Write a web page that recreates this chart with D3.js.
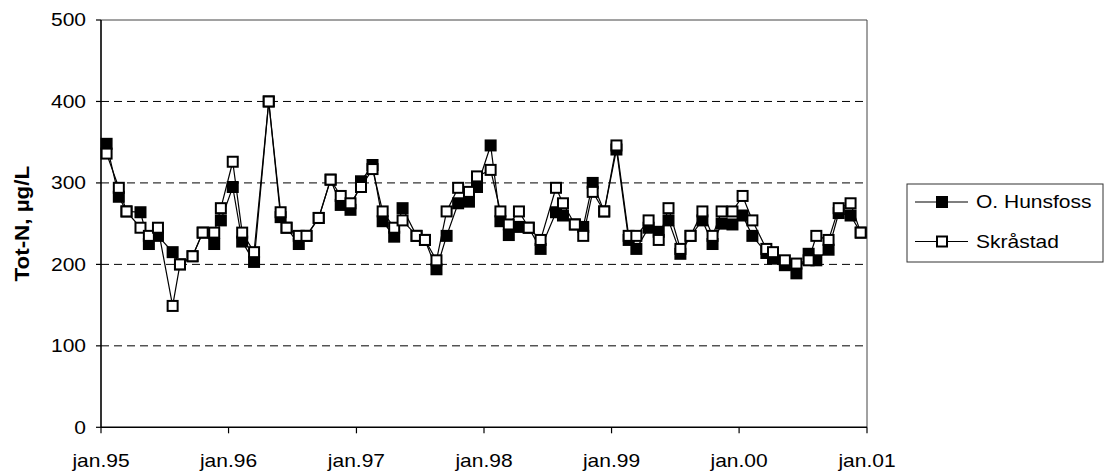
<!DOCTYPE html>
<html>
<head>
<meta charset="utf-8">
<script src="https://cdn.jsdelivr.net/npm/d3@7/dist/d3.min.js"></script>
<style>
  body { margin: 0; background: #fff; }
  text { font-family: "Liberation Sans", Arial, sans-serif; fill: #000; }
</style>
</head>
<body>
<svg id="chart"></svg>
<script>
const width = 1104;
const height = 472;

// sampling dates (approx. monthly)
const dates = [
  "1995-01-17","1995-02-21","1995-03-15","1995-04-24","1995-05-18","1995-06-13",
  "1995-07-25","1995-08-15","1995-09-20","1995-10-19","1995-11-21","1995-12-10",
  "1996-01-13","1996-02-09","1996-03-14","1996-04-25","1996-05-29","1996-06-15",
  "1996-07-20","1996-08-11","1996-09-15","1996-10-19","1996-11-17","1996-12-15",
  "1997-01-14","1997-02-16","1997-03-17","1997-04-19","1997-05-13","1997-06-22",
  "1997-07-16","1997-08-18","1997-09-16","1997-10-19","1997-11-19","1997-12-12",
  "1998-01-20","1998-02-17","1998-03-13","1998-04-11","1998-05-09","1998-06-12",
  "1998-07-26","1998-08-15","1998-09-18","1998-10-12","1998-11-08","1998-12-11",
  "1999-01-15","1999-02-19","1999-03-13","1999-04-17","1999-05-16","1999-06-13",
  "1999-07-17","1999-08-15","1999-09-18","1999-10-17","1999-11-12","1999-12-13",
  "2000-01-11","2000-02-08","2000-03-19","2000-04-07","2000-05-11","2000-06-13",
  "2000-07-18","2000-08-09","2000-09-13","2000-10-12","2000-11-15","2000-12-14"
];

const hunsfoss = [
  348, 283, 265, 264, 225, 235, 215, 200, 210, 239, 225, 254,
  295, 228, 203, 400, 258, 245, 225, 235, 257, 304, 273, 267,
  302, 322, 253, 234, 269, 235, 230, 194, 235, 275, 277, 295,
  346, 253, 236, 246, 245, 219, 264, 260, 249, 246, 300, 265,
  341, 230, 219, 245, 240, 254, 213, 235, 254, 225, 250, 249,
  260, 235, 214, 207, 199, 189, 213, 205, 218, 263, 260, 239
];

const skrastad = [
  336, 294, 265, 245, 235, 245, 149, 200, 210, 239, 239, 269,
  326, 239, 215, 400, 264, 245, 235, 235, 257, 304, 284, 275,
  295, 317, 265, 245, 254, 235, 230, 205, 265, 294, 289, 308,
  316, 265, 249, 265, 245, 230, 294, 275, 249, 235, 289, 265,
  346, 235, 235, 254, 230, 269, 219, 235, 265, 235, 265, 265,
  284, 254, 219, 215, 205, 201, 205, 235, 230, 269, 275, 239
];

const seriesNames = ["O. Hunsfoss", "Skråstad"];
const yTicks = [0, 100, 200, 300, 400, 500];
const xTickDates = ["1995-01-01","1996-01-01","1997-01-01","1998-01-01","1999-01-01","2000-01-01","2001-01-01"];
const xTickLabels = ["jan.95","jan.96","jan.97","jan.98","jan.99","jan.00","jan.01"];
const yTitle = "Tot-N, µg/L";

const parse = d3.utcParse("%Y-%m-%d");

const svg = d3.select("#chart")
  .attr("width", width)
  .attr("height", height);

const x = d3.scaleUtc()
  .domain([parse(xTickDates[0]), parse(xTickDates[xTickDates.length - 1])])
  .range([101, 867]);

const y = d3.scaleLinear()
  .domain([0, 500])
  .range([427.3, 20]);

const stretch = 1.2;

// gridlines
svg.append("g")
  .selectAll("line")
  .data(yTicks.filter(t => t > 0 && t < 500))
  .join("line")
  .attr("x1", x.range()[0]).attr("x2", x.range()[1])
  .attr("y1", d => y(d)).attr("y2", d => y(d))
  .attr("stroke", "#000")
  .attr("stroke-width", 1)
  .attr("stroke-dasharray", "8,5");

// plot area border (top/right)
svg.append("path")
  .attr("d", `M${x.range()[0]},${y(500)}H${x.range()[1]}V${y(0)}`)
  .attr("fill", "none")
  .attr("stroke", "#444")
  .attr("stroke-width", 1);

// axes
svg.append("line")
  .attr("x1", x.range()[0]).attr("x2", x.range()[0])
  .attr("y1", y(500)).attr("y2", y(0))
  .attr("stroke", "#000").attr("stroke-width", 1.6);
svg.append("line")
  .attr("x1", x.range()[0]).attr("x2", x.range()[1])
  .attr("y1", y(0)).attr("y2", y(0))
  .attr("stroke", "#000").attr("stroke-width", 1.6);

// y ticks + labels
svg.append("g")
  .selectAll("line")
  .data(yTicks)
  .join("line")
  .attr("x1", x.range()[0] - 5).attr("x2", x.range()[0])
  .attr("y1", d => y(d)).attr("y2", d => y(d))
  .attr("stroke", "#000").attr("stroke-width", 1.2);

svg.append("g")
  .selectAll("text")
  .data(yTicks)
  .join("text")
  .attr("transform", d => `translate(86,${y(d)}) scale(${stretch},1)`)
  .attr("text-anchor", "end")
  .attr("dy", "0.36em")
  .attr("font-size", 17.5)
  .text(d => d);

// x ticks + labels
svg.append("g")
  .selectAll("line")
  .data(xTickDates)
  .join("line")
  .attr("x1", d => x(parse(d))).attr("x2", d => x(parse(d)))
  .attr("y1", y(0)).attr("y2", y(0) + 6)
  .attr("stroke", "#000").attr("stroke-width", 1.2);

svg.append("g")
  .selectAll("text")
  .data(xTickDates)
  .join("text")
  .attr("transform", d => `translate(${x(parse(d))},467) scale(${stretch},1)`)
  .attr("text-anchor", "middle")
  .attr("font-size", 17.5)
  .text((d, i) => xTickLabels[i]);

// y title
svg.append("text")
  .attr("transform", `translate(29,${(y(0) + y(500)) / 2}) rotate(-90) scale(1.12,1)`)
  .attr("text-anchor", "middle")
  .attr("font-size", 20)
  .attr("font-weight", "bold")
  .text(yTitle);

// series
const line = d3.line()
  .x(d => x(d.date))
  .y(d => y(d.value));

const series = [hunsfoss, skrastad].map((vals, k) => ({
  name: seriesNames[k],
  filled: k === 0,
  points: dates.map((d, i) => ({ date: parse(d), value: vals[i] }))
}));

const mk = 10;

series.forEach(s => {
  svg.append("path")
    .datum(s.points)
    .attr("d", line)
    .attr("fill", "none")
    .attr("stroke", "#000")
    .attr("stroke-width", 1.2);

  svg.append("g")
    .selectAll("rect")
    .data(s.points)
    .join("rect")
    .attr("x", d => x(d.date) - mk / 2)
    .attr("y", d => y(d.value) - mk / 2)
    .attr("width", mk)
    .attr("height", mk)
    .attr("fill", s.filled ? "#000" : "#fff")
    .attr("stroke", "#000")
    .attr("stroke-width", 2);
});

// legend
const legend = svg.append("g").attr("transform", "translate(907,184)");
legend.append("rect")
  .attr("width", 196).attr("height", 78)
  .attr("fill", "#fff")
  .attr("stroke", "#333").attr("stroke-width", 1);

series.forEach((s, i) => {
  const ly = 18 + i * 39.5;
  const g = legend.append("g").attr("transform", `translate(0,${ly})`);
  g.append("line")
    .attr("x1", 8).attr("x2", 61)
    .attr("stroke", "#000").attr("stroke-width", 1.2);
  g.append("rect")
    .attr("x", 35 - mk / 2).attr("y", -mk / 2)
    .attr("width", mk).attr("height", mk)
    .attr("fill", s.filled ? "#000" : "#fff")
    .attr("stroke", "#000").attr("stroke-width", 2);
  g.append("text")
    .attr("transform", `translate(69,0) scale(${stretch},1)`)
    .attr("dy", "0.36em")
    .attr("font-size", 17.5)
    .text(s.name);
});
</script>
</body>
</html>
